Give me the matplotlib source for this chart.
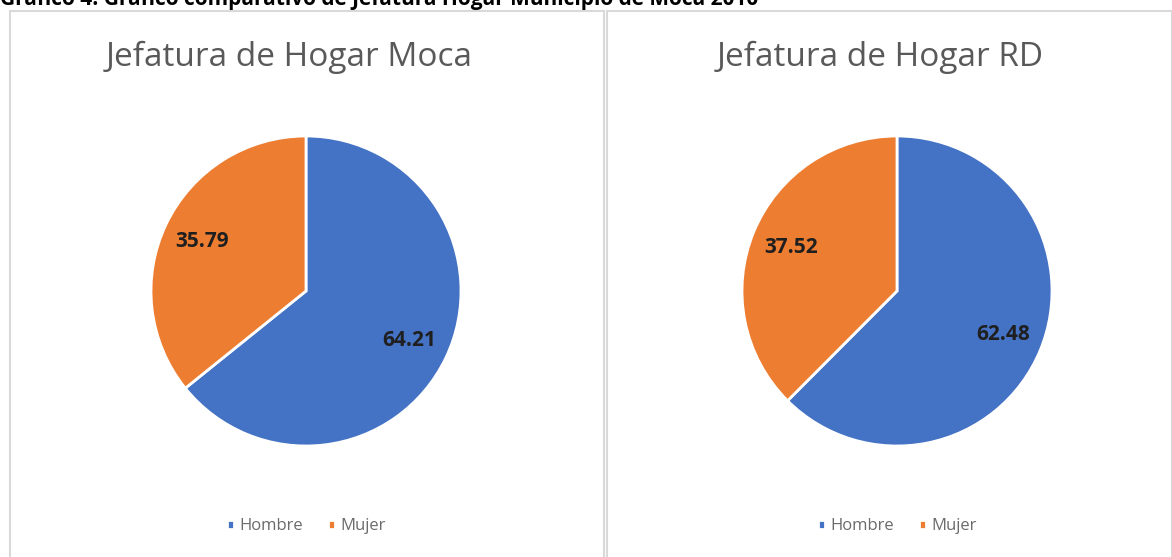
import matplotlib.pyplot as plt
from matplotlib.patches import Rectangle

categorias = ["Hombre", "Mujer"]
moca = [64.21, 35.79]
rd = [62.48, 37.52]
titulos = ["Jefatura de Hogar Moca", "Jefatura de Hogar RD"]
colores = ["#4472C4", "#ED7D31"]

plt.rcParams['font.family'] = ['Open Sans', 'DejaVu Sans']

W, H = 1172, 557
fig = plt.figure(figsize=(W / 100, H / 100), dpi=100)


def px(x, y):
    # pixel (desde arriba) a fraccion de figura
    return x / W, 1 - y / H


# marcos de los paneles
for x0, x1 in [(10, 604), (607, 1172)]:
    fig.patches.append(Rectangle((x0 / W, -0.01), (x1 - x0) / W, 1 - 11 / H + 0.01,
                                 transform=fig.transFigure, fill=False,
                                 edgecolor="#D9D9D9", lw=1.5))

fig.text(0, 1 - 5 / H, "Gráfico 4: Gráfico comparativo de Jefatura Hogar Municipio de Moca 2010",
         fontsize=15, fontweight="bold", ha="left", va="baseline")

paneles = [(306, moca, titulos[0], 289), (897, rd, titulos[1], 880)]
for cx, datos, titulo, tx in paneles:
    r = 155
    l, b = px(cx - r, 291 + r)
    ax = fig.add_axes([l, b, 2 * r / W, 2 * r / H])
    wedges, textos, autotextos = ax.pie(
        datos, colors=colores, startangle=90, counterclock=False,
        autopct=lambda p: f"{p:.2f}", pctdistance=0.74,
        wedgeprops=dict(edgecolor="white", linewidth=2))
    for t in autotextos:
        t.set_fontsize(15)
        t.set_fontweight("bold")
        t.set_color("#1f1f1f")
    ax.set_xlim(-1, 1)
    ax.set_ylim(-1, 1)
    ax.set_aspect("equal")

    fx, fy = px(tx, 57)
    fig.text(fx, fy, titulo, fontsize=24, fontweight="medium", color="#595959",
             ha="center", va="center")

    lx, ly = px(cx, 526)
    fig.legend(wedges, categorias, loc="center", bbox_to_anchor=(lx, ly), ncol=2,
               frameon=False, fontsize=12, labelcolor="#6b6b6b", handlelength=0.45,
               handleheight=0.45, handletextpad=0.3, columnspacing=1.5)

fig.savefig("out.png", dpi=100)
